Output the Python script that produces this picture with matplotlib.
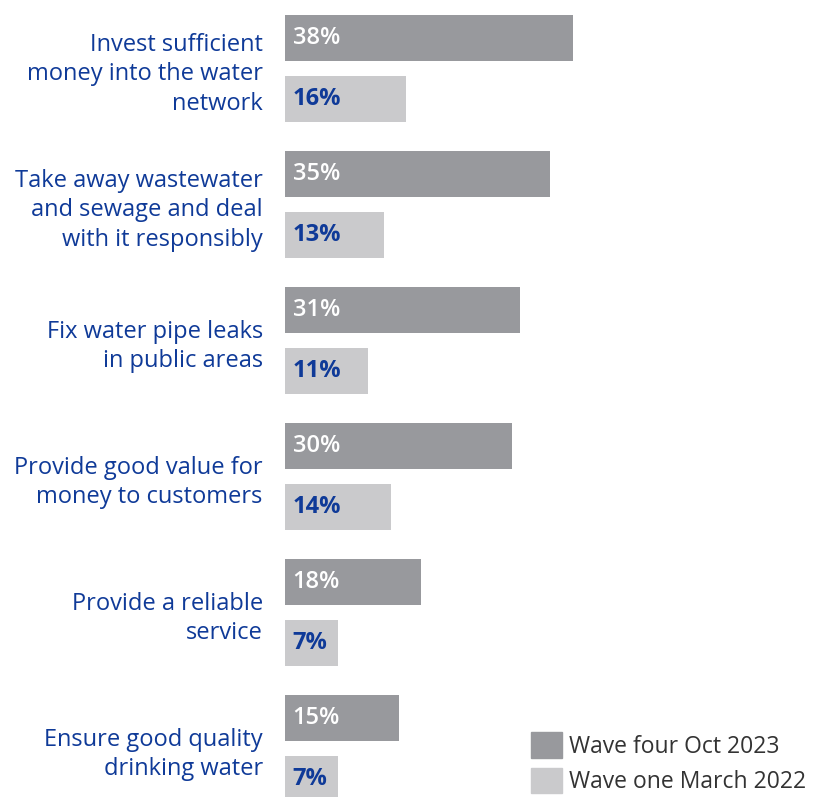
import matplotlib.pyplot as plt
from matplotlib.patches import Patch
import numpy as np

plt.rcParams['font.family'] = ['Open Sans', 'DejaVu Sans']

# survey priorities, top to bottom
categories = [
    'Invest sufficient\nmoney into the water\nnetwork',
    'Take away wastewater\nand sewage and deal\nwith it responsibly',
    'Fix water pipe leaks\nin public areas',
    'Provide good value for\nmoney to customers',
    'Provide a reliable\nservice',
    'Ensure good quality\ndrinking water',
]
wave_four = [38, 35, 31, 30, 18, 15]
wave_one = [16, 13, 11, 14, 7, 7]
series_names = ['Wave four Oct 2023', 'Wave one March 2022']

dark = '#98999d'
light = '#cacacc'
blue = '#0f3a98'

fig = plt.figure(figsize=(8.16, 7.97), dpi=100)
ax = fig.add_axes([285 / 816, 0, 531 / 816, 1])

y = np.arange(len(categories))
off = 61 / 136 / 2
h = 46 / 136

ax.barh(y - off, wave_four, height=h, color=dark)
ax.barh(y + off, wave_one, height=h, color=light)

for yi, v in zip(y, wave_four):
    ax.text(1.0, yi - off, f'{v}%', color='white', fontsize=17,
            fontweight='semibold', va='center', ha='left')
for yi, v in zip(y, wave_one):
    ax.text(1.0, yi + off, f'{v}%', color=blue, fontsize=17,
            fontweight='bold', va='center', ha='left')

ax.set_xlim(0, 531 / 7.58)
ax.set_ylim((797 - 68.5) / 136, -68.5 / 136)
ax.set_yticks(y)
ax.set_yticklabels(categories, fontsize=17, color=blue, linespacing=1.3)
ax.tick_params(axis='y', length=0, pad=16)
ax.set_xticks([])
for s in ax.spines.values():
    s.set_visible(False)

handles = [Patch(color=dark), Patch(color=light)]
fig.legend(handles, series_names, loc='upper left',
           bbox_to_anchor=(531 / 816, 1 - 732 / 797), frameon=False,
           fontsize=16.5, labelcolor='#333333', handlelength=1.35,
           handleheight=1.35, handletextpad=0.3, labelspacing=0.4,
           borderaxespad=0, borderpad=0)

fig.savefig('out.png', dpi=100)
